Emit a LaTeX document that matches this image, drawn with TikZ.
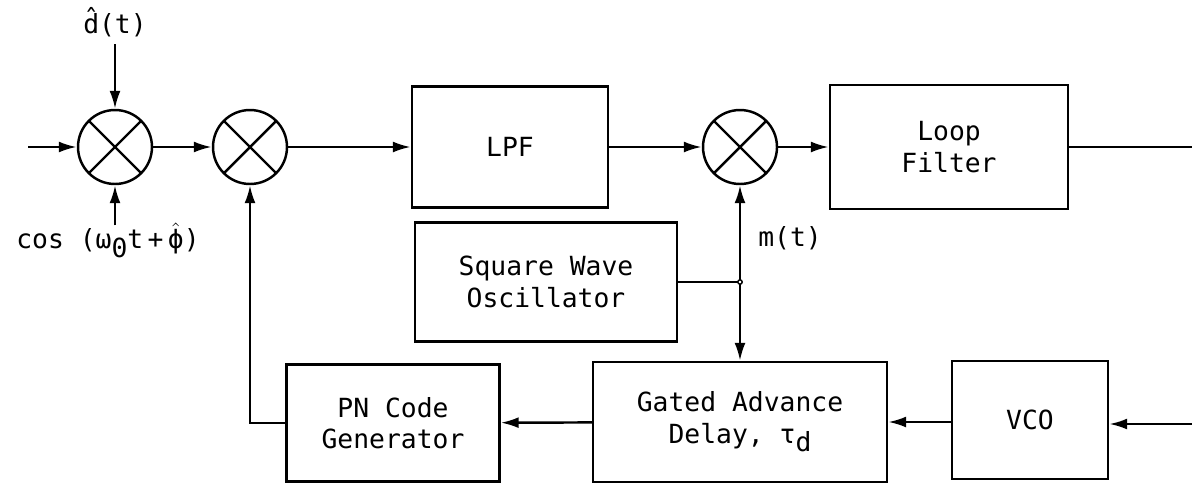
\documentclass[tikz,border=0pt]{standalone}
\usepackage{fontspec}
\setmainfont{DejaVu Sans Mono}
\usetikzlibrary{arrows.meta}
\newcommand{\lowsub}[1]{\raisebox{-0.6ex}{#1}}
\begin{document}
\begin{tikzpicture}[x=0.02cm, y=-0.02cm, line width=1.4pt,
    font=\fontsize{15}{18}\selectfont,
    arr/.style={-{Latex[length=3.6mm,width=2.2mm]}},
    block/.style={draw, align=center, inner sep=0pt},
    mixer/.style={circle, draw, minimum size=1.48cm, inner sep=0pt,
      path picture={\draw (path picture bounding box.north west) -- (path picture bounding box.south east)
        (path picture bounding box.north east) -- (path picture bounding box.south west);}}]
      \useasboundingbox (0, 0) rectangle (1192, 484);

      % Top row
      \node[mixer] (m1) at (115, 147) {};
      \node[mixer] (m2) at (250, 147) {};
      \node[block, minimum width=3.92cm, minimum height=2.42cm] (lpf) at (510, 147) {LPF};
      \node[mixer] (m3) at (740, 147) {};
      \node[block, minimum width=4.76cm, minimum height=2.48cm] (loop) at (949, 147) {Loop\\Filter};
      % Middle row
      \node[block, minimum width=5.24cm, minimum height=2.38cm] (sqw) at (546, 282) {Square Wave\\Oscillator};
      \coordinate (j) at (740, 282);
      % Bottom row
      \node[block, minimum width=4.26cm, minimum height=2.34cm] (pn) at (393, 423) {PN Code\\Generator};
      \node[block, minimum width=5.88cm, minimum height=2.40cm] (gad) at (740, 422) {Gated Advance\\Delay, τ\lowsub{d}};
      \node[block, minimum width=3.12cm, minimum height=2.36cm] (vco) at (1030, 420) {VCO};

      % Labels
      \node (dl) at (115, 22) {d̂(t)};
      \node (cosl) at (108, 240) {cos (ω\lowsub{0}t\,+\,$\hat{\hbox{ϕ}}$)};
      \node (ml) at (790, 238) {m(t)};
      \coordinate (in) at (28, 147);
      \coordinate (out) at (1192, 147);
      \coordinate (vin) at (1192, 424);

      % Connectors
      \draw[arr] (in) -- (m1);
      \draw[arr] (dl) -- (m1);
      \draw[arr] ([yshift=-0.2cm]cosl.north -| m1) -- (m1);
      \draw[arr] (m1) -- (m2);
      \draw[arr] (m2) -- (lpf);
      \draw[arr] (lpf) -- (m3);
      \draw[arr] (m3) -- (loop);
      \draw (loop) -- (out);
      \draw (sqw) -- (j);
      \draw[arr] (j) -- (m3);
      \draw[arr] (j) -- (gad);
      \draw[fill=white, line width=0.8pt] (j) circle (2.2);
      \draw[arr] (vin) -- (vin -| vco.east);
      \draw[arr] (vco.west |- gad) -- (gad);
      \draw[arr] (gad) -- (pn);
      \draw[arr] (pn.west) -| (m2.south);
    \end{tikzpicture}
\end{document}
